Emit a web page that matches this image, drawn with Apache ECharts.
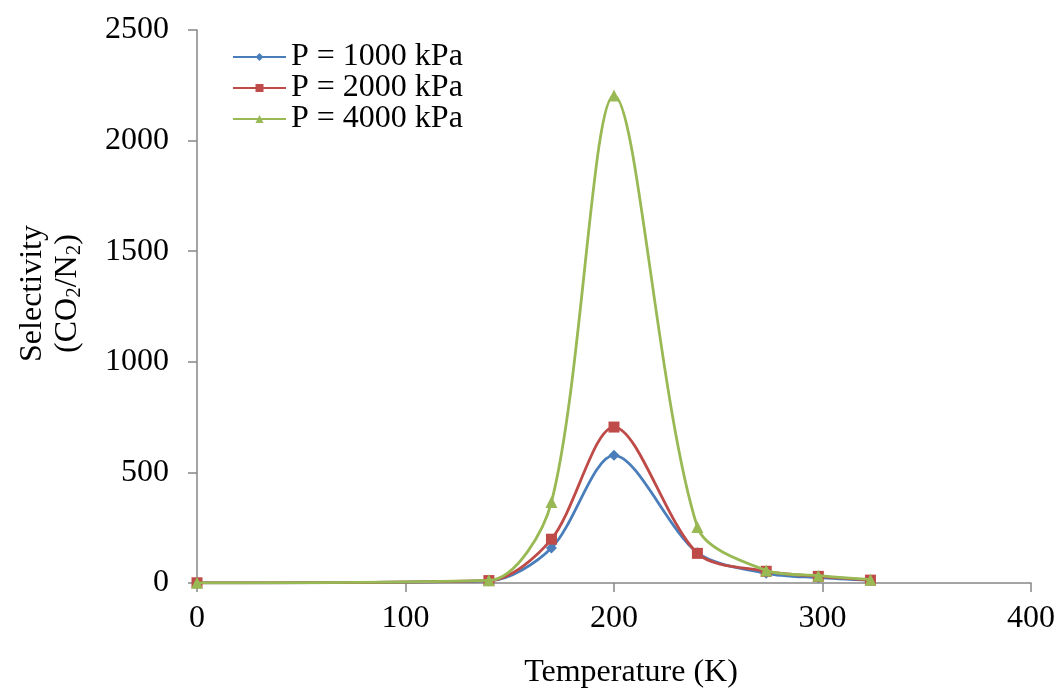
<!DOCTYPE html>
<html><head><meta charset="utf-8">
<script src="https://cdn.jsdelivr.net/npm/echarts@6/dist/echarts.min.js"></script>
<style>html,body{margin:0;padding:0;background:#fff}#c{width:1060px;height:694px}</style>
</head><body><div id="c"></div>
<script>
const temperatures = [0, 140, 170, 200, 240, 273, 298, 323];
const p1000 = [1, 10, 158, 577, 137, 44, 24, 12];
const p2000 = [1, 11, 198, 705, 134, 53, 30, 13];
const p4000 = [1, 12, 366, 2204, 253, 57, 33, 15];
const seriesNames = ['P = 1000 kPa', 'P = 2000 kPa', 'P = 4000 kPa'];
const colors = ['#4a7ebb', '#be4b48', '#98b954'];
const symbols = ['diamond', 'rect', 'triangle'];
const symbolSizes = [11, 11, 12];
const font = 'Liberation Serif';
const allData = [p1000, p2000, p4000];

const chart = echarts.init(document.getElementById('c'), null, {renderer: 'canvas'});
chart.setOption({
  animation: false,
  backgroundColor: '#fff',
  grid: {left: 197, right: 29, top: 30, bottom: 107},
  legend: {
    orient: 'vertical', left: 227, top: 36,
    itemWidth: 53, itemHeight: 10, itemGap: -1,
    textStyle: {fontFamily: font, fontSize: 32, color: '#000', lineHeight: 30},
    data: seriesNames
  },
  xAxis: {
    type: 'value', min: 0, max: 400, interval: 100,
    name: 'Temperature (K)', nameLocation: 'middle', nameGap: 74,
    nameTextStyle: {fontFamily: font, fontSize: 32, color: '#000', padding: [0, 0, 0, 34]},
    axisLine: {show: true, lineStyle: {color: '#868686', width: 1.5}},
    axisTick: {show: true, length: 9, lineStyle: {color: '#868686', width: 1.5}},
    axisLabel: {fontFamily: font, fontSize: 32, color: '#000', margin: 20, formatter: v => String(v)},
    splitLine: {show: false}
  },
  yAxis: {
    type: 'value', min: 0, max: 2500, interval: 500,
    name: 'Selectivity\n(CO{s|2}/N{s|2})', nameLocation: 'middle', nameGap: 112, nameRotate: 90,
    nameTextStyle: {fontFamily: font, fontSize: 32, color: '#000', lineHeight: 35, align: 'center',
      padding: [0, 0, 0, 26],
      rich: {s: {fontFamily: font, fontSize: 21, color: '#000', padding: [14, 0, 0, 0]}}},
    axisLine: {show: true, lineStyle: {color: '#868686', width: 1.5}},
    axisTick: {show: true, length: 9, lineStyle: {color: '#868686', width: 1.5}},
    axisLabel: {fontFamily: font, fontSize: 32, color: '#000', margin: 28, formatter: v => String(v)},
    splitLine: {show: false}
  },
  series: allData.map((d, i) => ({
    name: seriesNames[i], type: 'line', smooth: 0.3,
    data: temperatures.map((t, j) => [t, d[j]]),
    symbol: symbols[i], symbolSize: symbolSizes[i], showSymbol: true,
    itemStyle: {color: colors[i]},
    lineStyle: {color: colors[i], width: 2.8},
    z: 2 + i
  }))
});
</script></body></html>
